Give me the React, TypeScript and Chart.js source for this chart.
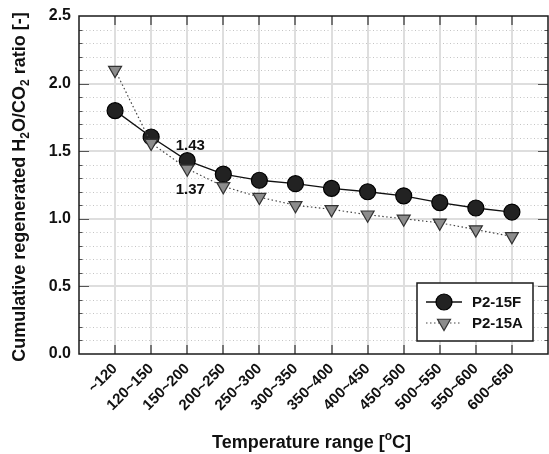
import React, { useEffect, useRef } from "react";
import { Chart, registerables } from "chart.js";

Chart.register(...registerables);

const categories = ["~120", "120~150", "150~200", "200~250", "250~300", "300~350", "350~400", "400~450", "450~500", "500~550", "550~600", "600~650"];
const seriesF = [1.80, 1.605, 1.43, 1.33, 1.285, 1.26, 1.225, 1.20, 1.17, 1.12, 1.08, 1.05];
const seriesA = [2.10, 1.56, 1.37, 1.24, 1.16, 1.10, 1.07, 1.03, 1.00, 0.97, 0.92, 0.87];
const seriesNames = ["P2-15F", "P2-15A"];
const annotatedIndex = 2;
const yMin = 0;
const yMax = 2.5;
const yMajorStep = 0.5;
const yMinorStep = 0.1;

const FONT = "'Liberation Sans', Arial, Helvetica, sans-serif";

function drawTriangleDown(ctx: CanvasRenderingContext2D, cx: number, cy: number, r: number) {
  ctx.beginPath();
  ctx.moveTo(cx - (r * Math.sqrt(3)) / 2, cy - r / 2);
  ctx.lineTo(cx + (r * Math.sqrt(3)) / 2, cy - r / 2);
  ctx.lineTo(cx, cy + r);
  ctx.closePath();
}

function drawRichText(ctx: CanvasRenderingContext2D, segs: { t: string; s?: "sub" | "sup" }[], cx: number, cy: number, size: number, rot: number) {
  ctx.save();
  ctx.translate(cx, cy);
  ctx.rotate(rot);
  const main = `bold ${size}px ${FONT}`;
  const small = `bold ${Math.round(size * 0.68)}px ${FONT}`;
  let total = 0;
  const widths = segs.map((sg) => {
    ctx.font = sg.s ? small : main;
    const w = ctx.measureText(sg.t).width;
    total += w;
    return w;
  });
  let x = -total / 2;
  ctx.fillStyle = "#111";
  ctx.textBaseline = "middle";
  ctx.textAlign = "left";
  segs.forEach((sg, i) => {
    ctx.font = sg.s ? small : main;
    let dy = 0;
    if (sg.s === "sub") dy = size * 0.32;
    if (sg.s === "sup") dy = -size * 0.36;
    ctx.fillText(sg.t, x, dy);
    x += widths[i];
  });
  ctx.restore();
}

const decorPlugin = {
  id: "decor",
  beforeDatasetsDraw(chart: any) {
    const { ctx, chartArea: a, scales } = chart;
    const y = scales.y;
    const x = scales.x;
    ctx.save();
    ctx.strokeStyle = "#c4c4c4";
    ctx.lineWidth = 1;
    ctx.setLineDash([1, 2.5]);
    for (let k = 1; k < Math.round((yMax - yMin) / yMinorStep); k++) {
      if (k % 5 === 0) continue;
      const py = Math.round(y.getPixelForValue(yMin + k * yMinorStep)) + 0.5;
      ctx.beginPath();
      ctx.moveTo(a.left, py);
      ctx.lineTo(a.right, py);
      ctx.stroke();
    }
    ctx.setLineDash([]);
    ctx.strokeStyle = "#dedede";
    ctx.lineWidth = 2;
    for (let v = yMin + yMajorStep; v < yMax - 1e-9; v += yMajorStep) {
      const py = Math.round(y.getPixelForValue(v));
      ctx.beginPath();
      ctx.moveTo(a.left, py);
      ctx.lineTo(a.right, py);
      ctx.stroke();
    }
    for (let i = 1; i <= categories.length; i++) {
      const px = Math.round(x.getPixelForValue(i));
      ctx.beginPath();
      ctx.moveTo(px, a.top);
      ctx.lineTo(px, a.bottom);
      ctx.stroke();
    }
    ctx.restore();
  },
  afterDatasetsDraw(chart: any) {
    const { ctx, chartArea: a, scales } = chart;
    const y = scales.y;
    const x = scales.x;
    ctx.save();
    ctx.strokeStyle = "#555";
    ctx.lineWidth = 1.5;
    for (let i = 1; i <= categories.length; i++) {
      const px = Math.round(x.getPixelForValue(i));
      ctx.beginPath();
      ctx.moveTo(px, a.top);
      ctx.lineTo(px, a.top + 9);
      ctx.moveTo(px, a.bottom);
      ctx.lineTo(px, a.bottom - 9);
      ctx.stroke();
    }
    ctx.lineWidth = 1.2;
    for (let k = 1; k < Math.round((yMax - yMin) / yMinorStep); k++) {
      const major = k % 5 === 0;
      const len = major ? 10 : 3.5;
      const py = Math.round(y.getPixelForValue(yMin + k * yMinorStep)) + 0.5;
      ctx.beginPath();
      ctx.moveTo(a.left, py);
      ctx.lineTo(a.left + len, py);
      ctx.moveTo(a.right, py);
      ctx.lineTo(a.right - len, py);
      ctx.stroke();
    }
    ctx.strokeStyle = "#1a1a1a";
    ctx.lineWidth = 1.5;
    ctx.strokeRect(a.left, a.top, a.right - a.left, a.bottom - a.top);

    ctx.fillStyle = "#111";
    ctx.font = `bold 15px ${FONT}`;
    ctx.textAlign = "center";
    ctx.textBaseline = "middle";
    const ax = x.getPixelForValue(annotatedIndex + 1) + 3;
    ctx.fillText(seriesF[annotatedIndex].toFixed(2), ax, y.getPixelForValue(seriesF[annotatedIndex]) - 15);
    ctx.fillText(seriesA[annotatedIndex].toFixed(2), ax, y.getPixelForValue(seriesA[annotatedIndex]) + 21);

    const bw = 116;
    const bh = 58;
    const bx = a.right - 15 - bw;
    const by = a.bottom - 13 - bh;
    ctx.fillStyle = "#fff";
    ctx.fillRect(bx, by, bw, bh);
    ctx.strokeStyle = "#1a1a1a";
    ctx.lineWidth = 1.5;
    ctx.strokeRect(bx, by, bw, bh);
    const r1 = by + 19;
    const r2 = by + 40;
    ctx.strokeStyle = "#111";
    ctx.lineWidth = 1.3;
    ctx.beginPath();
    ctx.moveTo(bx + 9, r1);
    ctx.lineTo(bx + 45, r1);
    ctx.stroke();
    ctx.beginPath();
    ctx.arc(bx + 27, r1, 8, 0, Math.PI * 2);
    ctx.fillStyle = "#222";
    ctx.fill();
    ctx.strokeStyle = "#000";
    ctx.lineWidth = 1.2;
    ctx.stroke();
    ctx.strokeStyle = "#444";
    ctx.lineWidth = 1.2;
    ctx.setLineDash([1.5, 2.5]);
    ctx.beginPath();
    ctx.moveTo(bx + 9, r2);
    ctx.lineTo(bx + 45, r2);
    ctx.stroke();
    ctx.setLineDash([]);
    drawTriangleDown(ctx, bx + 27, r2, 7.5);
    ctx.fillStyle = "#8c8c8c";
    ctx.fill();
    ctx.strokeStyle = "#333";
    ctx.stroke();
    ctx.fillStyle = "#111";
    ctx.font = `bold 15px ${FONT}`;
    ctx.textAlign = "left";
    ctx.textBaseline = "middle";
    ctx.fillText(seriesNames[0], bx + 55, r1 + 1);
    ctx.fillText(seriesNames[1], bx + 55, r2 + 1);

    drawRichText(
      ctx,
      [{ t: "Cumulative regenerated H" }, { t: "2", s: "sub" }, { t: "O/CO" }, { t: "2", s: "sub" }, { t: " ratio [-]" }],
      20,
      (a.top + a.bottom) / 2 + 2,
      18,
      -Math.PI / 2
    );
    drawRichText(ctx, [{ t: "Temperature range [" }, { t: "o", s: "sup" }, { t: "C]" }], (a.left + a.right) / 2 - 2, 443, 18, 0);
    ctx.restore();
  },
};

export default function App() {
  const ref = useRef<HTMLCanvasElement | null>(null);
  useEffect(() => {
    document.body.style.margin = "0";
    if (!ref.current) return;
    const labels = ["", ...categories, ""];
    const chart = new Chart(ref.current, {
      type: "line",
      data: {
        labels,
        datasets: [
          {
            label: seriesNames[0],
            data: [null, ...seriesF, null],
            order: 1,
            borderColor: "#111",
            borderWidth: 1.3,
            backgroundColor: "#222",
            pointStyle: "circle",
            pointRadius: 8,
            pointBorderColor: "#000",
            pointBorderWidth: 1.2,
            pointBackgroundColor: "#222",
            tension: 0,
          },
          {
            label: seriesNames[1],
            data: [null, ...seriesA, null],
            order: 0,
            borderColor: "#444",
            borderWidth: 1.2,
            borderDash: [1.5, 2.5],
            backgroundColor: "#8c8c8c",
            pointStyle: "triangle",
            pointRotation: 180,
            pointRadius: 7.5,
            pointBorderColor: "#333",
            pointBorderWidth: 1.2,
            pointBackgroundColor: "#8c8c8c",
            tension: 0,
          },
        ],
      },
      options: {
        responsive: false,
        animation: false,
        devicePixelRatio: 1,
        layout: { autoPadding: false, padding: { top: 16, right: 1, left: 0, bottom: 0 } },
        plugins: { legend: { display: false }, tooltip: { enabled: false }, title: { display: false } },
        scales: {
          x: {
            type: "category",
            offset: false,
            grid: { display: false, drawTicks: false },
            border: { display: false },
            ticks: {
              autoSkip: false,
              minRotation: 45,
              maxRotation: 45,
              padding: 6,
              color: "#111",
              font: { family: FONT, size: 15, weight: "bold" },
            },
            afterFit: (s: any) => {
              s.height = 100;
              s.paddingLeft = 0;
              s.paddingRight = 0;
            },
          },
          y: {
            min: yMin,
            max: yMax,
            grid: { display: false, drawTicks: false },
            border: { display: false },
            ticks: {
              stepSize: yMajorStep,
              padding: 8,
              color: "#111",
              font: { family: FONT, size: 16, weight: "bold" },
              callback: (v: any) => Number(v).toFixed(1),
            },
            afterFit: (s: any) => {
              s.width = 79;
              s.paddingTop = 0;
              s.paddingBottom = 0;
            },
          },
        },
      },
      plugins: [decorPlugin],
    } as any);
    return () => chart.destroy();
  }, []);
  return <canvas ref={ref} width={549} height={454} style={{ display: "block" }} />;
}
